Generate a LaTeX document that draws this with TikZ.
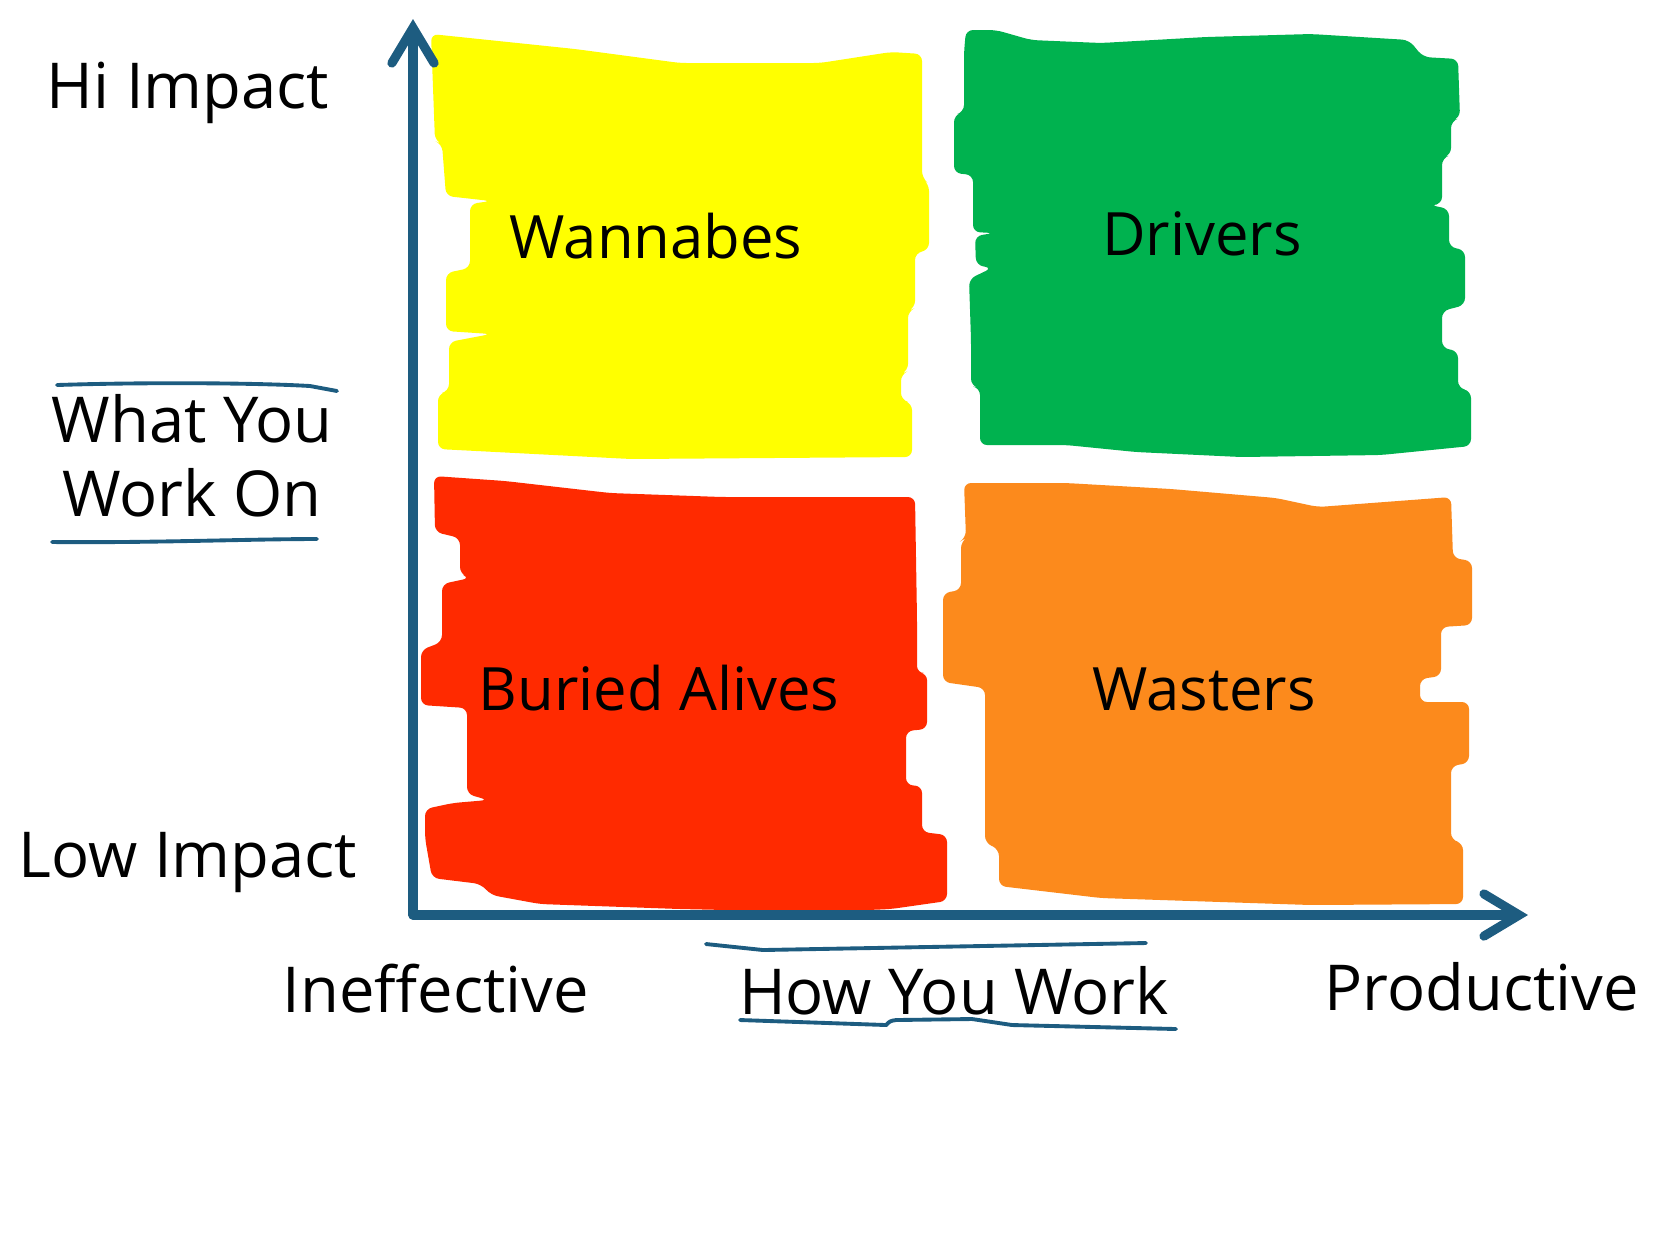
\documentclass[tikz,border=0pt]{standalone}
\usepackage{fontspec}
\setmainfont{Open Sans}
\usetikzlibrary{arrows.meta}
\definecolor{axisblue}{HTML}{1D5C80}
\definecolor{qyellow}{HTML}{FFFF00}
\definecolor{qgreen}{HTML}{00B24F}
\definecolor{qred}{HTML}{FF2A00}
\definecolor{qorange}{HTML}{FC8A1C}
\begin{document}
\begin{tikzpicture}[x=0.01cm, y=-0.01cm,
  patch/.style={rounded corners=2pt},
  qtext/.style={font=\fontsize{17}{20}\selectfont, inner sep=1pt},
  lbl/.style={font=\fontsize{18}{21}\selectfont, align=center, inner sep=1pt},
  axis/.style={line width=2.6pt, draw=axisblue, line cap=round,
               -{Straight Barb[length=10pt, width=12pt, line width=2.6pt, line cap=round]}},
  uline/.style={line width=1.1pt, draw=axisblue, line cap=round}
]
  \useasboundingbox[fill=white] (0,0) rectangle (1658,1250);

  % marker patches
  \fill[qyellow, patch] (431,34) -- (575,49) -- (680,63) -- (820,63) -- (891,52) -- (922,54)
    -- (922,178) -- (929,184) -- (929,250) -- (915,253) -- (915,308) -- (908,311) -- (908,371)
    -- (901,374) -- (901,400) -- (912,403) -- (912,457) -- (631,459) -- (438,449) -- (438,394)
    -- (449,391) -- (449,342) -- (491,334) -- (446,331) -- (446,273) -- (470,268) -- (470,204)
    -- (491,201) -- (446,196) -- (442,144) -- (435,141) -- cycle;
  \fill[qgreen, patch] (966,30) -- (996,30) -- (1031,40) -- (1101,43) -- (1206,37) -- (1311,34)
    -- (1409,40) -- (1423,57) -- (1458,59) -- (1460,118) -- (1451,121) -- (1451,155) -- (1442,158)
    -- (1442,204) -- (1430,205) -- (1449,209) -- (1449,247) -- (1465,250) -- (1465,305) -- (1442,311)
    -- (1442,348) -- (1458,351) -- (1458,388) -- (1471,391) -- (1471,446) -- (1381,455) -- (1241,457)
    -- (1136,452) -- (1066,445) -- (980,445) -- (980,388) -- (971,386) -- (971,340) -- (969,279)
    -- (992,268) -- (976,265) -- (975,236) -- (994,233) -- (973,232) -- (973,175) -- (954,173)
    -- (954,115) -- (964,112) -- (964,52) -- cycle;
  \fill[qred, patch] (434,476) -- (505,481) -- (610,493) -- (722,497) -- (915,497) -- (917,619)
    -- (917,673) -- (927,673) -- (927,729) -- (906,731) -- (906,785) -- (922,786) -- (922,832)
    -- (947,835) -- (947,901) -- (891,909) -- (821,912) -- (680,909) -- (540,904) -- (491,895)
    -- (481,884) -- (432,878) -- (425,838) -- (425,809) -- (453,803) -- (488,800) -- (467,794)
    -- (467,708) -- (421,705) -- (421,650) -- (442,642) -- (442,584) -- (470,578) -- (460,574)
    -- (460,538) -- (435,532) -- cycle;
  \fill[qorange, patch] (964,483) -- (1066,483) -- (1171,489) -- (1276,498) -- (1318,507)
    -- (1451,497) -- (1453,558) -- (1472,561) -- (1472,625) -- (1441,627) -- (1441,676) -- (1420,679)
    -- (1420,702) -- (1469,702) -- (1469,763) -- (1451,766) -- (1451,840) -- (1463,843) -- (1463,904)
    -- (1311,905) -- (1101,898) -- (999,886) -- (999,849) -- (985,843) -- (985,688) -- (943,682)
    -- (943,593) -- (961,590) -- (961,541) -- (966,538) -- cycle;

  \node[qtext] (wanna)  at (656,236)  {Wannabes};
  \node[qtext] (drive)  at (1202,234) {Drivers};
  \node[qtext] (buried) at (659,688)  {Buried Alives};
  \node[qtext] (waste)  at (1204,689) {Wasters};

  % axes
  \coordinate (origin) at (413,915);
  \coordinate (ytop)   at (413,19);
  \coordinate (xend)   at (1528,915);
  \draw[axis] (origin) -- (ytop);
  \draw[axis] (origin) -- (xend);

  % axis labels
  \node[lbl] (hi)    at (188,93)  {Hi Impact};
  \node[lbl] (what)  at (192,456) {What You\\Work On};
  \node[lbl] (low)   at (188,862) {Low Impact};
  \node[lbl] (ineff) at (436,989) {Ineffective};
  \node[lbl] (how)   at (954,991) {How You Work};
  \node[lbl] (prod)  at (1482,987) {Productive};

  % underlines
  \coordinate (wt1) at (57,385);   \coordinate (wt2) at (337,391);
  \coordinate (wb1) at (52,542);   \coordinate (wb2) at (317,539);
  \coordinate (ht1) at (706,944);  \coordinate (ht2) at (1146,943);
  \coordinate (hb1) at (740,1020); \coordinate (hb2) at (1176,1029);
  \draw[uline] (wt1) .. controls (150,382) and (260,383) .. (310,386) -- (wt2);
  \draw[uline] (wb1) .. controls (150,543) and (250,539) .. (wb2);
  \draw[uline] (ht1) -- (763,950) -- (ht2);
  \draw[uline] (hb1) -- (886,1025) .. controls (890,1021) .. (896,1020) -- (972,1019)
    -- (1012,1025) -- (hb2);
\end{tikzpicture}
\end{document}
